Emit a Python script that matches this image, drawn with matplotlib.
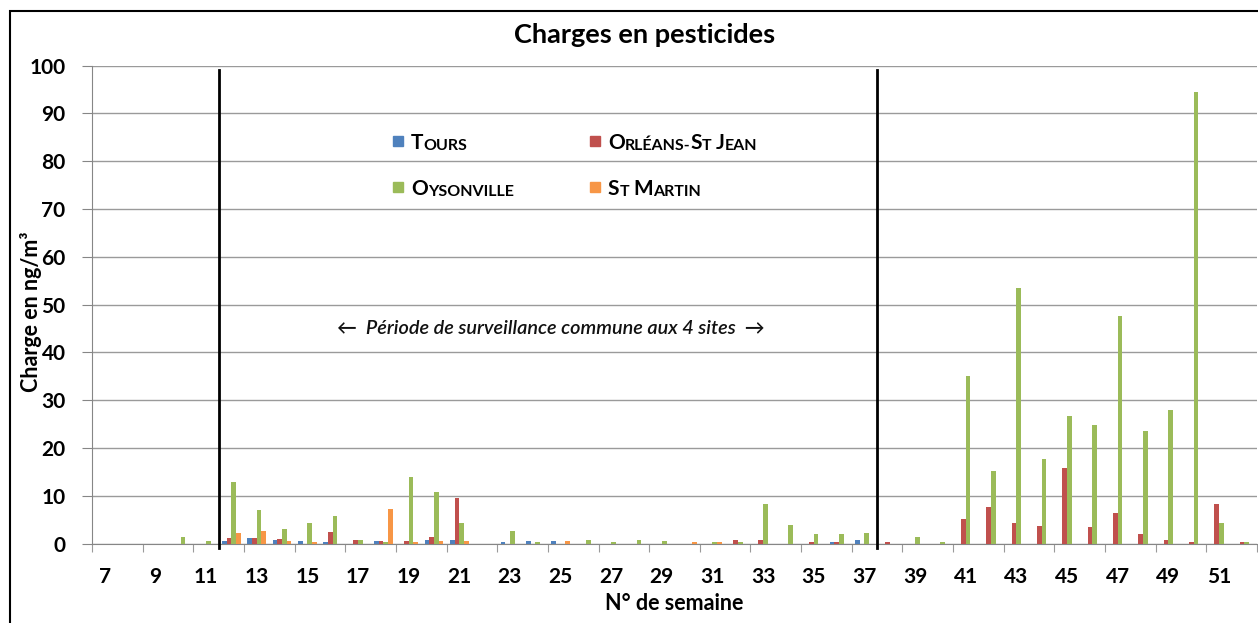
import numpy as np
import matplotlib
matplotlib.use("Agg")
import matplotlib.pyplot as plt
from matplotlib.patches import Rectangle

plt.rcParams['font.family'] = ['Lato', 'DejaVu Sans']

# N° de semaine 7 -> 52
semaines = list(range(7, 53))
tours = [0, 0, 0, 0, 0, 0.5, 1.1, 0.8, 0.6, 0.3, 0, 0.6, 0, 0.8, 0.8, 0,
         0.3, 0.6, 0.6, 0, 0, 0, 0, 0, 0, 0, 0, 0, 0, 0.3, 0.7, 0,
         0, 0, 0, 0, 0, 0, 0, 0, 0, 0, 0, 0, 0, 0]
orleans = [0, 0, 0, 0, 0, 1.1, 1.1, 1.0, 0, 2.4, 0.8, 0.6, 0.5, 1.3, 9.6, 0,
           0, 0, 0, 0, 0, 0, 0, 0, 0, 0.7, 0.7, 0, 0.3, 0.3, 0, 0.4,
           0, 0, 5.2, 7.6, 4.3, 3.6, 15.7, 3.4, 6.3, 1.9, 0.7, 0.3, 8.3, 0.3]
oysonville = [0, 0, 0, 1.4, 0.6, 12.8, 7.0, 3.0, 4.3, 5.7, 0.8, 0.3, 13.9, 10.8, 4.3, 0,
              2.6, 0.3, 0, 0.7, 0.3, 0.7, 0.6, 0, 0.3, 0.4, 8.3, 3.8, 2.0, 2.0, 2.2, 0,
              1.3, 0.4, 35.1, 15.1, 53.5, 17.7, 26.6, 24.9, 47.7, 23.6, 28.0, 94.4, 4.3, 0.3]
st_martin = [0, 0, 0, 0, 0, 2.2, 2.6, 0.6, 0.3, 0, 0, 7.2, 0.3, 0.5, 0.6, 0,
             0, 0, 0.5, 0, 0, 0, 0, 0.3, 0.3, 0, 0, 0, 0, 0, 0, 0,
             0, 0, 0, 0, 0, 0, 0, 0, 0, 0, 0, 0, 0, 0]

series = [tours, orleans, oysonville, st_martin]
couleurs = ['#4F81BD', '#C0504D', '#9BBB59', '#F79646']

fig = plt.figure(figsize=(12.58, 6.23), dpi=100)
ax = fig.add_axes([92/1258, 1-543.5/623, 1165/1258, 477.8/623])

x = np.arange(len(semaines))
w = 0.185
for k, (vals, c) in enumerate(zip(series, couleurs)):
    ax.bar(x + (k-1.5)*w, vals, width=w, color=c, zorder=3)

ax.set_xlim(-0.5, len(semaines)-0.5)
ax.set_ylim(0, 100)
ax.set_yticks(np.arange(0, 101, 10))
ax.grid(axis='y', color='#9a9a9a', lw=1, zorder=0)
ax.tick_params(axis='y', length=7, color='#868686', pad=12, labelsize=15)
for t in ax.get_yticklabels():
    t.set_fontweight('bold')

# ticks aux limites de catégories, étiquettes au centre
ax.set_xticks(np.arange(-0.5, len(semaines), 2))
ax.set_xticklabels([])
ax.tick_params(axis='x', which='major', length=6, color='#9a9a9a')
ax.set_xticks(x[::2], minor=True)
ax.set_xticklabels([str(s) for s in semaines[::2]], minor=True, fontweight='bold', fontsize=15)
ax.tick_params(axis='x', which='minor', length=0, pad=17)

for s in ['top', 'right']:
    ax.spines[s].set_visible(False)
for s in ['left', 'bottom']:
    ax.spines[s].set_color('#868686')

# limites de la période commune
for xb in [4.5, 30.5]:
    ax.plot([xb, xb], [-1, 99.2], color='black', lw=2, clip_on=False, zorder=4)

ax.text(17.6, 44.9, '\u2190  Période de surveillance commune aux 4 sites  \u2192',
        ha='center', va='center', fontsize=14.3, style='italic', fontweight='semibold',
        color='#111111')

# légende en petites capitales
def petites_caps(x0, y0, parts):
    prev = ax.text(x0, y0, parts[0][0], transform=ax.transAxes, fontsize=parts[0][1],
                   fontweight='bold', va='bottom', ha='left')
    for txt, fs, gap in parts[1:]:
        prev = ax.annotate(txt, xy=(1, 0), xycoords=prev, xytext=(gap, 0),
                           textcoords='offset points', fontsize=fs, fontweight='bold',
                           va='bottom', ha='left')

G, P = 15, 11.5
legende = [
    (0.2627, 0.842, couleurs[0], [('T', G, 0), ('OURS', P, 0)]),
    (0.4317, 0.842, couleurs[1], [('O', G, 0), ('RLÉANS-', P, 0), ('S', G, 0), ('T', P, 0),
                                   ('J', G, 3), ('EAN', P, 0)]),
    (0.2627, 0.746, couleurs[2], [('O', G, 0), ('YSONVILLE', P, 0)]),
    (0.4317, 0.746, couleurs[3], [('S', G, 0), ('T', P, 0), ('M', G, 3), ('ARTIN', P, 0)]),
]
for cx, cy, c, parts in legende:
    ax.add_patch(Rectangle((cx - 5/1165, cy - 5/477.8), 10/1165, 10/477.8,
                           transform=ax.transAxes, color=c, clip_on=False, zorder=5))
    petites_caps(cx + 13/1165, cy - 12/477.8, parts)

fig.text(645/1258, 1-35/623, 'Charges en pesticides', ha='center', va='center',
         fontsize=19.5, fontweight='bold')
fig.text(674/1258, 1-604/623, 'N° de semaine', ha='center', va='center',
         fontsize=15.5, fontweight='bold')
fig.text(31/1258, 1-312/623, 'Charge en ng/m³', ha='center', va='center',
         fontsize=15.5, fontweight='bold', rotation=90)

# cadre extérieur (coupé à droite et en bas)
fig.patches.append(Rectangle((10/1258, -0.1), 1.2, 1.1 - 11/623, transform=fig.transFigure,
                             fill=False, edgecolor='black', lw=1.5))

fig.savefig('out.png', dpi=100)
